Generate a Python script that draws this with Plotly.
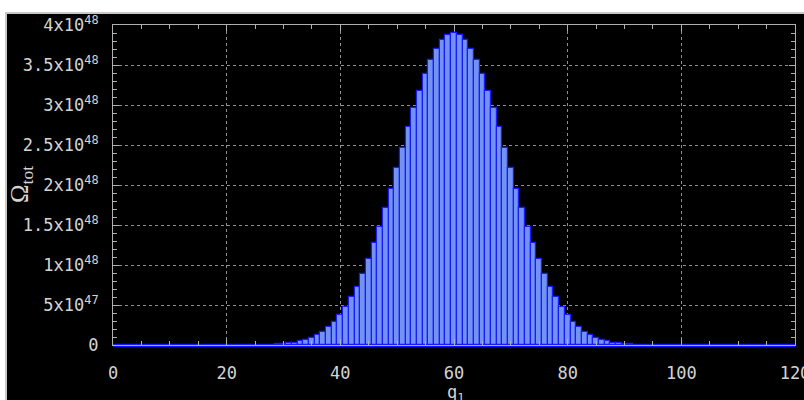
import plotly.graph_objects as go

# q1 values (energy units in solid A)
q1 = list(range(0, 121))

# Omega_tot in units of 1e48 (symmetric about q1 = 60)
omega_left = {
    25: 0.001, 26: 0.0017, 27: 0.003, 28: 0.005, 29: 0.008, 30: 0.013,
    31: 0.020, 32: 0.030, 33: 0.044, 34: 0.063, 35: 0.089, 36: 0.123,
    37: 0.167, 38: 0.222, 39: 0.290, 40: 0.375, 41: 0.470, 42: 0.596,
    43: 0.730, 44: 0.890, 45: 1.075, 46: 1.270, 47: 1.480, 48: 1.710,
    49: 1.950, 50: 2.210, 51: 2.460, 52: 2.720, 53: 2.960, 54: 3.180,
    55: 3.390, 56: 3.560, 57: 3.700, 58: 3.810, 59: 3.875, 60: 3.900,
}
omega_scaled = [0.0] * len(q1)
for k, v in omega_left.items():
    omega_scaled[k] = v
    omega_scaled[120 - k] = v
omega_tot = [v * 1e48 for v in omega_scaled]

x_ticks = [0, 20, 40, 60, 80, 100, 120]
y_tickvals = [0, 5e47, 1e48, 1.5e48, 2e48, 2.5e48, 3e48, 3.5e48, 4e48]
y_ticktext = ["0", "5x10<sup>47</sup>", "1x10<sup>48</sup>", "1.5x10<sup>48</sup>",
              "2x10<sup>48</sup>", "2.5x10<sup>48</sup>", "3x10<sup>48</sup>",
              "3.5x10<sup>48</sup>", "4x10<sup>48</sup>"]
x_title = "q<sub>1</sub>"
y_title = "Ω<sub>tot</sub>"

W, H = 804, 400
L, R, T, B = 113, 9, 25, 55
pw, ph = W - L - R, H - T - B

fig = go.Figure()
fig.add_trace(go.Bar(
    x=q1, y=omega_tot, width=1.0,
    marker=dict(color="#7393f2", line=dict(color="#1a1aff", width=1.2)),
    showlegend=False,
))

txt_color = "#d4d4d4"
tick_font = dict(family="DejaVu Sans Mono", size=17, color=txt_color)
fig.update_layout(
    width=W, height=H,
    margin=dict(l=L, r=R, t=T, b=B, pad=0, autoexpand=False),
    paper_bgcolor="white",
    plot_bgcolor="black",
    bargap=0,
    shapes=[
        dict(type="rect", xref="paper", yref="paper", layer="below",
             x0=(6 - L) / pw, x1=(W + 5 - L) / pw,
             y0=-(B + 5) / ph, y1=1 + (T - 13) / ph,
             fillcolor="black", line=dict(color="#c8c8c8", width=2)),
    ],
    annotations=[
        dict(text=x_title, xref="paper", yref="paper", x=(455 - L) / pw,
             y=-(380 - (H - B)) / ph, xanchor="center", yanchor="top",
             showarrow=False, font=dict(family="DejaVu Sans Mono", size=17, color=txt_color)),
        dict(text=y_title, xref="paper", yref="paper", x=(21 - L) / pw,
             y=((H - B) - 185) / ph, xanchor="center", yanchor="middle", textangle=-90,
             showarrow=False, font=dict(family="Liberation Serif", size=25, color=txt_color)),
    ],
    xaxis=dict(
        range=[0, 120], tickvals=x_ticks, ticks="inside", ticklen=6,
        tickcolor="#b0b0b0", tickfont=tick_font, ticklabelstandoff=13,
        ticklabeloverflow="allow", automargin=False,
        showline=True, linecolor="#b0b0b0", linewidth=1, mirror="allticks",
        showgrid=True, gridcolor="#909090", griddash="dot", gridwidth=1,
        zeroline=False,
        minor=dict(dtick=5, ticks="inside", ticklen=4, tickcolor="#b0b0b0", showgrid=False),
    ),
    yaxis=dict(
        range=[0, 4e48], tickvals=y_tickvals, ticktext=y_ticktext,
        ticks="inside", ticklen=6, tickcolor="#b0b0b0", tickfont=tick_font,
        ticklabelstandoff=10, ticklabeloverflow="allow", automargin=False,
        showline=True, linecolor="#b0b0b0", linewidth=1, mirror="allticks",
        showgrid=True, gridcolor="#909090", griddash="dot", gridwidth=1,
        zeroline=True, zerolinecolor="#1010ff", zerolinewidth=2.5,
        minor=dict(dtick=1e47, ticks="inside", ticklen=4, tickcolor="#b0b0b0", showgrid=False),
    ),
)

fig.write_html("out.html", config={"displayModeBar": False},
               post_script="document.body.style.margin='0';document.body.style.overflow='hidden';")
